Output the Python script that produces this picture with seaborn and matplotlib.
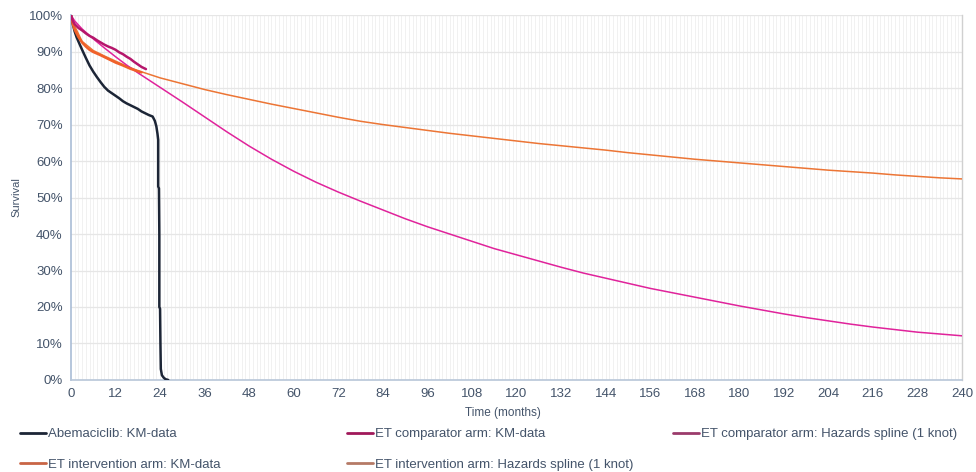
import matplotlib
matplotlib.use("Agg")
import matplotlib.pyplot as plt
from matplotlib.lines import Line2D
import numpy as np
import pandas as pd
import seaborn as sns

# Kaplan-Meier and extrapolated survival (months, % surviving)
abema_t = [0, 0.5, 1, 1.5, 2, 3, 4, 5, 6, 7, 8, 9, 10, 11, 12, 13, 14, 15, 16, 17,
           18, 19, 20, 21, 22, 22.6, 23.0, 23.3, 23.5, 23.5, 23.7, 23.8, 23.8, 24.0,
           24.1, 24.2, 24.5, 25.0, 25.5, 26.2]
abema_s = [100, 97.5, 95.5, 94, 92.8, 90.5, 88.3, 86.2, 84.5, 83, 81.6, 80.3, 79.3,
           78.6, 77.9, 77.2, 76.4, 75.8, 75.3, 74.8, 74.3, 73.6, 73.1, 72.6, 72.2,
           71.0, 69.5, 67.5, 65.8, 53.0, 52.5, 40, 20, 19.5, 10, 3, 1.3, 0.6, 0.2, 0]

comp_km_t = [0, 0.5, 1, 2, 3, 4, 5, 6, 7, 8, 9, 10, 11, 12, 13, 14, 15, 16, 17, 18, 19, 20.2]
comp_km_s = [100, 98.4, 97.5, 96.5, 95.8, 95, 94.3, 93.8, 93.1, 92.5, 91.9, 91.4, 91.0,
             90.5, 89.8, 89.3, 88.6, 88.0, 87.2, 86.5, 85.8, 85.2]

comp_sp_t = [0, 1, 3, 6, 9, 12, 15, 18, 21, 24, 30, 36, 42, 48, 54, 60, 66, 72, 78,
             84, 90, 96, 102, 108, 114, 120, 126, 132, 138, 144, 150, 156, 162, 168,
             174, 180, 186, 192, 198, 204, 210, 216, 222, 228, 234, 240]
comp_sp_s = [100, 98.4, 96.2, 93.5, 91.0, 88.6, 86.3, 84.2, 82.2, 80.2, 76.2, 72.1,
             68.0, 64.1, 60.5, 57.2, 54.2, 51.5, 49.0, 46.6, 44.2, 42.0, 40.0, 38.0,
             36.0, 34.3, 32.6, 30.9, 29.3, 27.9, 26.5, 25.1, 23.9, 22.7, 21.5, 20.3,
             19.2, 18.1, 17.1, 16.2, 15.3, 14.5, 13.8, 13.1, 12.6, 12.1]

int_km_t = [0, 0.5, 1, 2, 3, 4, 5, 6, 8, 10, 12, 14, 16, 18, 19]
int_km_s = [100, 97.5, 96, 94, 92.5, 91.4, 90.5, 89.9, 89.0, 88.0, 87.0, 86.2, 85.3, 84.6, 84.3]

int_sp_t = [0, 1, 3, 6, 9, 12, 15, 18, 21, 24, 30, 36, 42, 48, 54, 60, 66, 72, 78,
            84, 90, 96, 102, 108, 114, 120, 126, 132, 138, 144, 150, 156, 162, 168,
            174, 180, 186, 192, 198, 204, 210, 216, 222, 228, 234, 240]
int_sp_s = [100, 97.0, 92.8, 90.3, 88.8, 87.4, 86.0, 84.8, 83.8, 82.8, 81.2, 79.6,
            78.2, 76.9, 75.6, 74.4, 73.2, 72.0, 70.9, 70.0, 69.2, 68.4, 67.6, 66.9,
            66.2, 65.5, 64.8, 64.2, 63.6, 63.0, 62.3, 61.7, 61.1, 60.5, 60.0, 59.5,
            59.0, 58.5, 58.0, 57.5, 57.1, 56.7, 56.2, 55.8, 55.4, 55.1]

labels = ["Abemaciclib: KM-data",
          "ET comparator arm: KM-data",
          "ET comparator arm: Hazards spline (1 knot)",
          "ET intervention arm: KM-data",
          "ET intervention arm: Hazards spline (1 knot)"]

x_ticks = list(range(0, 241, 12))
y_ticks = list(range(0, 101, 10))

text_col = "#44546a"
line_cols = ["#1c2536", "#b5166b", "#e0239b", "#f0602a", "#ec7535"]
legend_cols = ["#1c2536", "#a0185a", "#9b3b6b", "#c96545", "#b57a66"]

sns.set_theme(style="white")
plt.rcParams["font.family"] = ["Liberation Sans", "DejaVu Sans"]

fig = plt.figure(figsize=(9.76, 4.72), dpi=100)
ax = fig.add_axes([0.0727, 0.195, 0.913, 0.773])

# drawing order: splines beneath the KM curves
series = [
    (abema_t, abema_s, 1.8, line_cols[0]),
    (int_sp_t, int_sp_s, 1.1, line_cols[4]),
    (comp_sp_t, comp_sp_s, 1.1, line_cols[2]),
    (int_km_t, int_km_s, 1.8, line_cols[3]),
    (comp_km_t, comp_km_s, 1.8, line_cols[1]),
]
for i, (t, s, lw, c) in enumerate(series):
    df = pd.DataFrame({"t": t, "s": np.array(s) / 100.0})
    sns.lineplot(data=df, x="t", y="s", ax=ax, estimator=None, sort=False,
                 color=c, linewidth=lw, zorder=3 + i)

ax.set_xlim(0, 240)
ax.set_ylim(0, 1.0)

# fine monthly vertical grid and 10% horizontal grid
for m in range(1, 241):
    ax.axvline(m, color="#efefef", linewidth=0.6, zorder=0)
for v in y_ticks[1:]:
    ax.axhline(v / 100.0, color="#e6e6e6", linewidth=0.9, zorder=1)

ax.set_xticks(x_ticks)
ax.set_xticklabels([str(v) for v in x_ticks])
ax.set_yticks([v / 100.0 for v in y_ticks])
ax.set_yticklabels([f"{v}%" for v in y_ticks])
ax.tick_params(axis="both", length=0, labelsize=9.5, colors=text_col, pad=6)

ax.set_xlabel("Time (months)", fontsize=8.5, color=text_col)
ax.xaxis.set_label_coords(0.485, -0.075)
ax.set_ylabel("Survival", fontsize=8, color=text_col)
ax.yaxis.set_label_coords(-0.055, 0.5)

ax.spines["top"].set_visible(False)
ax.spines["left"].set_color("#a9bcd6")
ax.spines["left"].set_linewidth(1.2)
ax.spines["bottom"].set_color("#b8c6d8")
ax.spines["bottom"].set_linewidth(1.2)
ax.spines["right"].set_color("#d0d0d0")
ax.spines["right"].set_linewidth(1.0)

handles = [Line2D([], [], color=c, linewidth=2.0) for c in legend_cols]
columns = [([0, 3], 0.0205), ([1, 4], 0.3555), ([2], 0.6895)]
for idx, xpos in columns:
    fig.legend([handles[k] for k in idx], [labels[k] for k in idx],
               loc="upper left", bbox_to_anchor=(xpos, 0.093), frameon=False,
               fontsize=9.5, handlelength=2.0, handletextpad=0.15,
               labelspacing=1.4, borderaxespad=0, borderpad=0,
               labelcolor=text_col)

fig.savefig("out.png", dpi=100)
